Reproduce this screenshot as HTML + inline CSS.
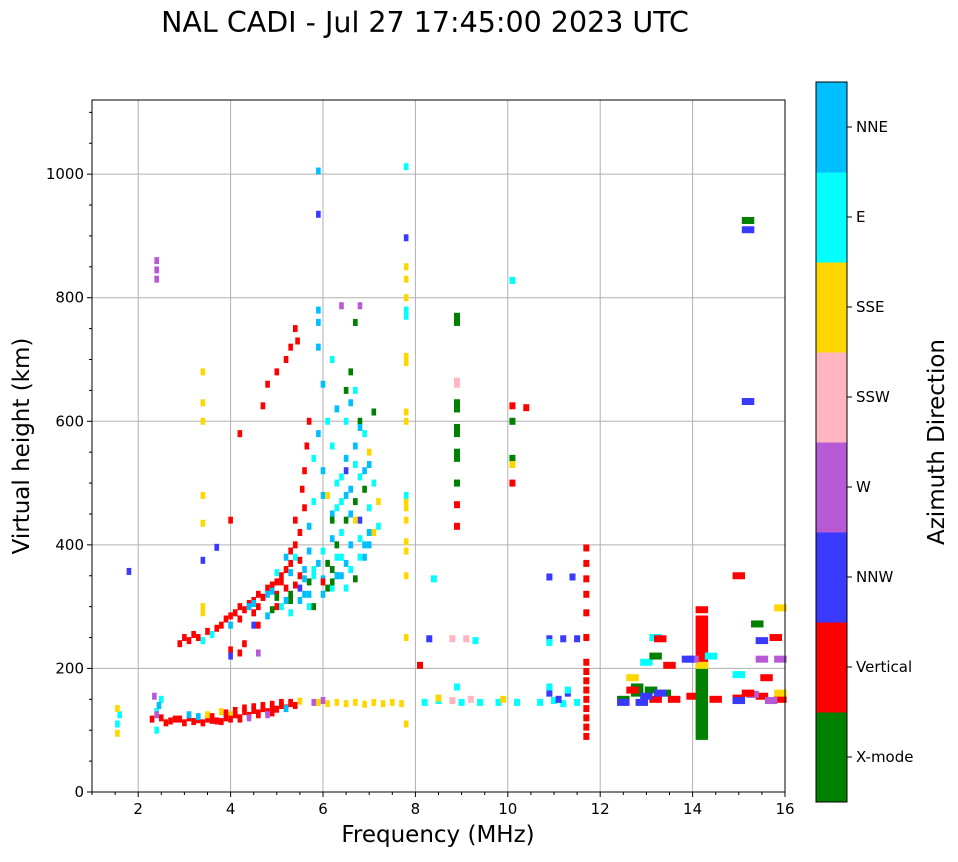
<!DOCTYPE html>
<html><head><meta charset="utf-8">
<style>
body{margin:0;background:#fff;font-family:"Liberation Sans","DejaVu Sans",sans-serif;}
svg text{font-family:"DejaVu Sans","Liberation Sans",sans-serif;}
</style></head>
<body>
<svg id="chart" width="958" height="857" xmlns="http://www.w3.org/2000/svg">
<rect width="958" height="857" fill="#fff"/>
<text x="425" y="32" font-size="28.5" text-anchor="middle">NAL CADI - Jul 27 17:45:00 2023 UTC</text>
<g id="grid"></g>
<g id="marks"></g>
<rect x="92" y="100" width="693" height="692" fill="none" stroke="#000" stroke-width="1"/>
<g id="axes"></g>
<text x="438" y="842" font-size="23" text-anchor="middle">Frequency (MHz)</text>
<text transform="translate(29,446) rotate(-90)" font-size="23" text-anchor="middle">Virtual height (km)</text>
<g id="cbar"></g>
<text transform="translate(944,442) rotate(-90)" font-size="23" text-anchor="middle">Azimuth Direction</text>
</svg>
<script>
const dirNames=["X-mode","Vertical","NNW","W","SSW","SSE","E","NNE"];
const dirColors=["#008000","#ff0000","#3a3aff","#b65ad6","#ffb6c1","#ffd700","#00ffff","#00bfff"];
const xTicks=[2,4,6,8,10,12,14,16];
const yTicks=[0,200,400,600,800,1000];
const freqs=[2.3,2.5,2.7,2.9,3.1,3.3,3.5,3.7,3.9,4.1,4.3,4.5,4.7,4.9,5.1,5.3,4.2,4.6,4.9,
1.55,1.6,2.4,2.4,2.5,1.55,1.55,3.5,3.8,4.0,
5.9,6.1,6.3,6.5,6.7,6.9,7.1,7.3,7.5,7.7,5.8,6.0,
8.2,8.5,9.0,9.4,9.8,10.2,10.7,11.0,11.2,11.5,8.8,9.2,8.5,9.9,10.9,11.3,11.1,
12.5,12.8,13.1,13.4,13.2,13.6,14.0,14.5,15.0,15.5,15.9,12.5,12.9,
14.2,14.2,14.2,14.2,14.2,14.2,14.2,14.2,14.2,14.2,14.2,14.2,14.2,14.2,14.2,14.2,14.2,14.2,14.2,14.2,14.2,
11.7,11.7,11.7,11.7,11.7,11.7,11.7,11.7,11.7,11.7,11.7,11.7,11.7,11.7,11.7,
2.9,3.0,3.1,3.2,3.3,3.5,3.7,3.8,3.9,4.0,4.1,4.2,4.3,4.4,4.5,4.6,4.7,4.8,4.9,5.0,5.1,5.2,5.3,5.3,5.4,5.5,5.4,5.6,4.5,4.2,4.6,5.0,5.2,5.5,4.0,4.2,4.3,
5.7,5.65,5.6,5.55,5.3,5.2,5.0,4.8,4.7,5.4,5.45,4.2,4.0,
3.4,3.6,4.0,4.4,4.8,5.0,5.2,5.4,5.6,5.8,5.9,6.0,6.2,6.4,6.6,6.8,7.0,7.2,6.2,6.4,6.6,6.8,7.0,7.1,6.7,6.9,6.5,6.3,6.0,5.8,5.9,6.1,6.3,6.5,6.0,6.2,5.9,5.9,6.2,6.6,7.0,6.4,6.2,6.0,5.7,5.5,5.3,6.6,6.7,6.0,5.8,5.7,6.3,
5.0,5.3,5.7,6.1,6.3,6.5,6.7,6.9,7.0,6.6,6.5,6.7,6.8,7.1,5.8,6.2,
4.5,5.5,5.9,5.9,5.9,6.5,6.8,
7.0,7.1,6.7,7.2,
6.4,6.8,4.6,2.4,2.4,2.4,
7.8,7.8,7.8,7.8,7.8,7.8,7.8,7.8,7.8,7.8,7.8,7.8,7.8,7.8,7.8,7.8,7.8,7.8,7.8,7.8,7.8,7.8,
8.9,8.9,8.9,8.9,8.9,8.9,8.9,8.9,8.9,8.9,8.9,8.9,8.9,
10.1,10.4,10.1,8.1,10.1,10.1,10.1,10.1,8.4,10.9,11.4,3.4,3.4,3.4,3.4,3.4,3.4,3.4,3.4,1.8,3.7,4.0,
15.2,15.4,15.2,15.2,15.5,15.0,15.8,15.6,15.9,15.9,14.2,14.4,15.0,15.5,15.9,14.0,
8.3,10.9,11.2,11.5,8.8,9.1,9.3,10.9,8.9,10.9,11.3,
13.2,13.0,13.3,13.5,13.2,12.8,12.7,13.9,
3.0,3.2,3.4,3.6,3.8,4.0,4.2,4.4,4.6,4.8,5.0,5.2,5.4,2.6,2.8,2.4,2.45,2.35,
3.1,3.3,3.6,3.9,4.1,4.3,4.5,4.7,4.9,5.1,5.3,5.5,4.4,4.8,5.2,
4.5,4.7,4.9,5.1,5.3,5.5,5.7,5.1,5.6,5.8,6.0,6.2,6.4,6.6,6.8,7.0,6.1,6.3,6.5,6.7,6.9,6.3,6.5,6.7,6.9,6.1,6.4,6.8,
4.6,4.8,5.0,5.2,5.4,5.6,4.9,5.3,5.7,6.0,6.3,6.6,6.9,6.2,6.5,
13.0,13.3,12.7,15.0,15.3,15.7,15.2];
const heights=[118,120,115,118,120,117,118,115,120,125,130,132,135,138,140,143,118,125,128,
110,125,100,130,150,95,135,125,130,125,
145,143,145,143,145,142,145,143,145,143,145,148,
145,148,145,145,145,145,145,148,143,145,148,150,152,150,160,160,150,
150,160,165,160,150,150,155,150,152,155,150,145,145,
90,100,110,120,130,140,150,160,170,180,190,200,210,220,230,240,250,260,270,280,295,
90,105,120,135,150,165,180,195,210,250,290,320,345,370,395,
240,250,245,255,250,260,265,270,280,285,290,300,295,305,310,320,315,330,335,340,350,360,370,390,400,420,440,460,290,280,300,320,330,350,230,225,240,
600,560,520,490,720,700,680,660,625,750,730,580,440,
245,255,270,300,320,355,380,380,360,350,370,390,410,420,400,410,400,430,450,470,490,510,530,500,560,580,540,500,520,540,580,600,620,600,660,700,720,760,560,450,460,350,330,320,300,310,290,630,650,480,470,430,380,
315,320,340,370,400,440,470,490,420,680,650,760,600,615,300,440,
270,330,1005,935,780,520,440,
550,420,440,470,
787,787,225,860,845,830,
850,830,800,780,705,695,615,600,480,470,460,440,405,390,350,250,110,1012,780,770,480,897,
770,760,630,620,590,580,550,540,500,465,430,660,665,
625,622,500,205,600,540,530,828,345,348,348,680,630,600,480,435,300,290,375,357,396,220,
925,272,910,632,245,350,250,185,298,160,205,220,190,215,215,215,
248,248,248,248,248,248,245,242,170,170,165,
250,210,248,205,220,170,185,215,
112,114,112,116,114,118,120,124,128,130,134,136,140,112,118,125,140,155,
125,122,122,128,132,136,138,140,142,145,145,147,120,125,135,
305,315,325,340,355,375,390,300,320,360,345,360,380,360,380,420,330,350,330,345,380,460,480,530,520,480,510,590,
270,285,300,310,335,345,295,310,320,340,350,360,400,340,370,
155,160,165,148,158,148,160];
const dirs=[1,1,1,1,1,1,1,1,1,1,1,1,1,1,1,1,1,1,1,
6,6,6,6,6,5,5,5,5,5,
5,5,5,5,5,5,5,5,5,5,3,3,
6,6,6,6,6,6,6,6,6,6,4,4,5,5,2,2,2,
0,0,0,0,1,1,1,1,1,1,1,2,2,
0,0,0,0,0,0,0,0,0,0,0,0,1,1,1,1,1,1,1,1,1,
1,1,1,1,1,1,1,1,1,1,1,1,1,1,1,
1,1,1,1,1,1,1,1,1,1,1,1,1,1,1,1,1,1,1,1,1,1,1,1,1,1,1,1,1,1,1,1,1,1,1,1,1,
1,1,1,1,1,1,1,1,1,1,1,1,1,
6,6,7,7,7,6,7,6,7,6,7,6,7,6,7,6,7,6,7,6,7,6,7,6,7,6,7,6,7,6,7,6,7,6,7,6,7,7,6,7,6,7,6,7,6,7,6,7,6,7,6,7,6,
0,0,0,0,0,0,0,0,0,0,0,0,0,0,0,0,
2,2,7,2,7,2,2,
5,5,5,5,
3,3,3,3,3,3,
5,5,5,5,5,5,5,5,5,5,5,5,5,5,5,5,5,6,6,6,6,2,
0,0,0,0,0,0,0,0,0,1,1,4,4,
1,1,1,1,0,0,5,6,6,2,2,5,5,5,5,5,5,5,2,2,2,2,
0,0,2,2,2,1,1,1,5,5,5,6,6,3,3,3,
2,2,2,2,4,4,6,6,6,6,6,
6,6,1,1,0,0,5,2,
1,1,1,1,1,1,1,1,1,1,1,1,1,1,1,3,7,3,
7,7,1,1,1,1,1,1,1,1,1,5,3,3,7,
7,1,7,1,7,1,7,6,7,6,7,0,6,7,6,7,0,7,6,0,7,6,7,6,7,5,6,7,
1,7,1,7,1,7,0,0,7,1,7,6,7,0,7,
2,2,1,2,3,3,1];
const X0=92,X1=785,Y0=792,Y1=100,FMIN=1,FMAX=16,HMAX=1120;
function xs(f){return X0+(f-FMIN)/(FMAX-FMIN)*(X1-X0);}
function ys(h){return Y0-h/HMAX*(Y0-Y1);}
const NS="http://www.w3.org/2000/svg";
function mk(tag,attrs,parent){const e=document.createElementNS(NS,tag);for(const k in attrs)e.setAttribute(k,attrs[k]);parent.appendChild(e);return e;}
const grid=document.getElementById('grid'),axes=document.getElementById('axes'),marks=document.getElementById('marks'),cbar=document.getElementById('cbar');
xTicks.forEach(t=>{
  const l=mk('line',{x1:xs(t),x2:xs(t),y1:Y1,y2:Y0,stroke:'#b0b0b0','stroke-width':1},grid);
  
  
  mk('line',{x1:xs(t),x2:xs(t),y1:Y0,y2:Y0+5,stroke:'#000'},axes);
  const tx=mk('text',{x:xs(t),y:Y0+22,'font-size':15,'text-anchor':'middle'},axes);tx.textContent=t;
  
  
});
for(let t=1;t<16;t+=0.5){if(xTicks.includes(t))continue;mk('line',{x1:xs(t),x2:xs(t),y1:Y0,y2:Y0+3,stroke:'#000'},axes);}
yTicks.forEach(t=>{
  const l=mk('line',{x1:X0,x2:X1,y1:ys(t),y2:ys(t),stroke:'#b0b0b0','stroke-width':1},grid);
  
  
  mk('line',{x1:X0-5,x2:X0,y1:ys(t),y2:ys(t),stroke:'#000'},axes);
  const tx=mk('text',{x:X0-8,y:ys(t)+5,'font-size':15,'text-anchor':'end'},axes);tx.textContent=t;
  
  
});
for(let t=50;t<1120;t+=50){if(t%200==0)continue;mk('line',{x1:X0-3,x2:X0,y1:ys(t),y2:ys(t),stroke:'#000'},axes);}
for(let i=0;i<freqs.length;i++){
  const f=freqs[i];const w=f<8?0.1:(f<12.3?0.13:0.27);
  const r=mk('rect',{x:xs(f-w/2),y:ys(heights[i])-3.5,width:(X1-X0)*w/15,height:7,fill:dirColors[dirs[i]]},marks);
  
  
}
const CX=816,CW=31,CT=82,CB=802,seg=(CB-CT)/dirNames.length;
dirNames.forEach((n,i)=>{
  const y=CB-(i+1)*seg;
  const r=mk('rect',{x:CX,y:y,width:CW,height:seg+0.5,fill:dirColors[i]},cbar);
  
  
  mk('line',{x1:CX+CW,x2:CX+CW+5,y1:y+seg/2,y2:y+seg/2,stroke:'#000'},cbar);
  mk('line',{x1:CX+CW-4,x2:CX+CW,y1:y,y2:y,stroke:'#000'},cbar);
  const t=mk('text',{x:CX+CW+9,y:y+seg/2+5,'font-size':15},cbar);t.textContent=n;
  
  
});
mk('rect',{x:CX,y:CT,width:CW,height:CB-CT,fill:'none',stroke:'#000'},cbar);
</script>
</body></html>
